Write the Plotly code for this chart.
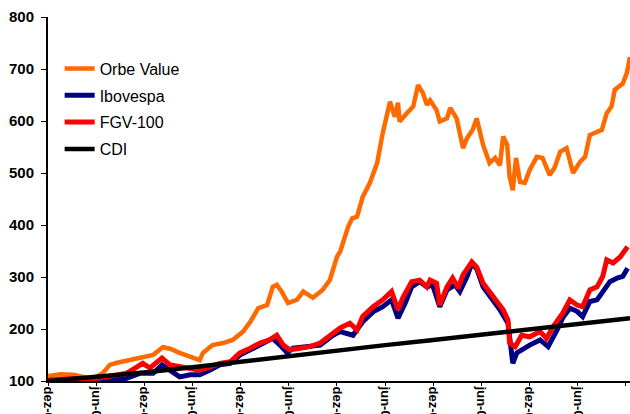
import plotly.graph_objects as go

# x values are months elapsed since dez-03
tick_months = [0, 6, 12, 18, 24, 30, 36, 42, 48, 54, 60, 66, 72]
tick_labels = ["dez-03", "jun-04", "dez-04", "jun-05", "dez-05", "jun-06", "dez-06",
               "jun-07", "dez-07", "jun-08", "dez-08", "jun-09", "dez-09"]

orbe_x = [0.0, 0.25, 1.5, 3.1, 4.4, 5.6, 6.8, 7.7, 8.6, 9.8, 11.1, 12.3, 13.1, 14.3, 15.2,
          16.4, 17.7, 18.9, 19.3, 20.5, 21.8, 23.0, 24.3, 25.2, 26.2, 27.3, 28.0, 28.5, 29.1,
          29.9, 31.0, 31.8, 33.0, 34.2, 35.1, 36.0, 36.4, 37.4, 37.9, 38.5, 39.2, 40.1, 41.0,
          41.7, 42.6, 43.2, 43.6, 43.8, 44.7, 45.5, 46.1, 46.7, 47.2, 47.6, 48.4, 48.8, 49.7,
          50.1, 50.9, 51.3, 51.7, 52.2, 52.9, 53.4, 54.2, 55.0, 55.7, 56.3, 56.7, 57.2, 57.5,
          57.9, 58.3, 58.8, 59.4, 60.0, 60.9, 61.6, 62.5, 63.1, 63.8, 64.6, 65.4, 66.3, 66.9,
          67.5, 68.4, 69.0, 69.6, 70.2, 70.6, 71.6, 72.1, 72.5]
orbe_y = [100, 110, 113, 112, 108, 104, 115, 131, 135, 139, 144, 148, 150, 165, 162,
          154, 147, 140, 154, 169, 173, 179, 195, 214, 240, 246, 281, 285, 272,
          250, 256, 272, 260, 275, 294, 339, 349, 397, 413, 416, 454, 481, 519,
          577, 637, 608, 635, 599, 615, 628, 669, 654, 631, 640, 621, 599, 605,
          625, 605, 577, 548, 567, 583, 605, 554, 519, 529, 515, 570, 554, 493,
          467, 529, 483, 481, 506, 531, 529, 496, 510, 541, 548, 500, 522, 531,
          573, 579, 583, 615, 628, 660, 672, 692, 723]

ibov_x = [0.0, 0.25, 3.1, 5.6, 7.3, 9.8, 11.5, 13.1, 14.2, 15.2, 16.4, 17.7, 18.9, 20.2,
          21.4, 22.7, 23.9, 25.2, 26.4, 28.0, 28.9, 29.8, 30.5, 32.3, 33.9, 35.5, 36.4, 38.0,
          39.2, 40.5, 41.7, 42.8, 43.6, 44.5, 45.3, 46.3, 47.2, 47.9, 48.8, 49.7, 50.7, 51.3,
          52.2, 52.8, 53.4, 54.2, 55.4, 56.3, 57.3, 57.9, 58.4, 59.0, 60.0, 61.3, 62.3, 63.4,
          64.1, 65.0, 65.9, 66.6, 67.5, 68.4, 69.1, 70.0, 70.9, 71.6, 72.2]
ibov_y = [100, 101, 101, 98, 101, 105, 115, 115, 131, 121, 108, 112, 112, 121,
          131, 134, 150, 160, 169, 182, 169, 154, 163, 166, 169, 188, 195, 188,
          214, 233, 243, 256, 221, 250, 281, 291, 281, 285, 243, 275, 285, 272,
          301, 326, 316, 281, 256, 237, 211, 134, 154, 160, 169, 179, 166, 198,
          221, 240, 234, 224, 253, 256, 272, 291, 298, 301, 317]

fgv_x = [0.0, 0.25, 3.1, 5.6, 7.3, 8.6, 9.8, 11.1, 11.8, 12.7, 14.2, 15.2, 16.4, 17.7,
         18.9, 20.2, 21.4, 22.7, 23.9, 25.2, 26.4, 27.6, 28.5, 29.3, 30.1, 31.4, 32.6, 33.9,
         35.1, 36.4, 37.6, 38.5, 39.2, 40.5, 41.7, 42.8, 43.6, 44.2, 45.3, 46.3, 47.2, 47.6,
         48.4, 48.8, 49.7, 50.4, 51.1, 51.7, 52.8, 53.4, 54.2, 55.0, 55.9, 56.7, 57.3, 57.5,
         58.2, 59.0, 60.0, 61.3, 62.1, 62.9, 64.1, 65.0, 65.9, 66.6, 67.5, 68.4, 69.1, 69.6,
         70.4, 71.3, 72.2]
fgv_y = [100, 102, 105, 104, 108, 112, 115, 127, 134, 125, 144, 131, 127, 125,
         121, 127, 134, 137, 154, 163, 173, 179, 188, 169, 160, 163, 166, 173,
         188, 202, 211, 198, 224, 243, 256, 272, 237, 260, 291, 294, 281, 294,
         288, 246, 281, 298, 279, 304, 329, 319, 288, 272, 256, 237, 217, 173,
         166, 188, 185, 195, 182, 204, 230, 256, 246, 243, 275, 281, 301, 333,
         327, 339, 358]

cdi_x = [0, 6, 12, 18, 24, 30, 36, 42, 48, 54, 60, 66, 72.5]
cdi_y = [100, 107.7, 116.5, 126.5, 137.5, 148.5, 159, 169, 179, 189, 200, 210.5, 220.5]

fig = go.Figure()
fig.add_trace(go.Scatter(x=orbe_x, y=orbe_y, name="Orbe Value", mode="lines",
                         line=dict(color="#FF6A00", width=4.5)))
fig.add_trace(go.Scatter(x=ibov_x, y=ibov_y, name="Ibovespa", mode="lines",
                         line=dict(color="#000080", width=5)))
fig.add_trace(go.Scatter(x=fgv_x, y=fgv_y, name="FGV-100", mode="lines",
                         line=dict(color="#FF0000", width=5)))
fig.add_trace(go.Scatter(x=cdi_x, y=cdi_y, name="CDI", mode="lines",
                         line=dict(color="#000000", width=4.5)))

fig.update_layout(
    width=630, height=414,
    margin=dict(l=48, r=0, t=17, b=33),
    paper_bgcolor="white", plot_bgcolor="white",
    font=dict(family="Liberation Sans, Arial, sans-serif", color="black"),
    showlegend=True,
    legend=dict(x=0.02, y=0.905, xanchor="left", yanchor="top",
                font=dict(size=16), bgcolor="rgba(0,0,0,0)", tracegroupgap=3),
    xaxis=dict(range=[0, 72.5], tickmode="array", tickvals=tick_months, ticktext=tick_labels,
               tickangle=90, tickfont=dict(size=13, weight="bold"),
               showline=True, linecolor="black", linewidth=2, ticks="outside",
               ticklen=3, tickcolor="black", showgrid=False, zeroline=False,
               ticklabelstandoff=-2, automargin=False),
    yaxis=dict(range=[100, 800], tickvals=[100, 200, 300, 400, 500, 600, 700, 800],
               tickfont=dict(size=15, weight="bold"),
               showline=True, linecolor="black", linewidth=2, ticks="outside",
               ticklen=5, tickcolor="black", showgrid=False, zeroline=False,
               ticklabelstandoff=4, automargin=False),
)
for i, tr in enumerate(fig.data):
    tr.legendgroup = str(i)

fig.write_html("out.html", config={"displayModeBar": False},
               post_script="document.body.style.margin='0';document.body.style.overflow='hidden';")
